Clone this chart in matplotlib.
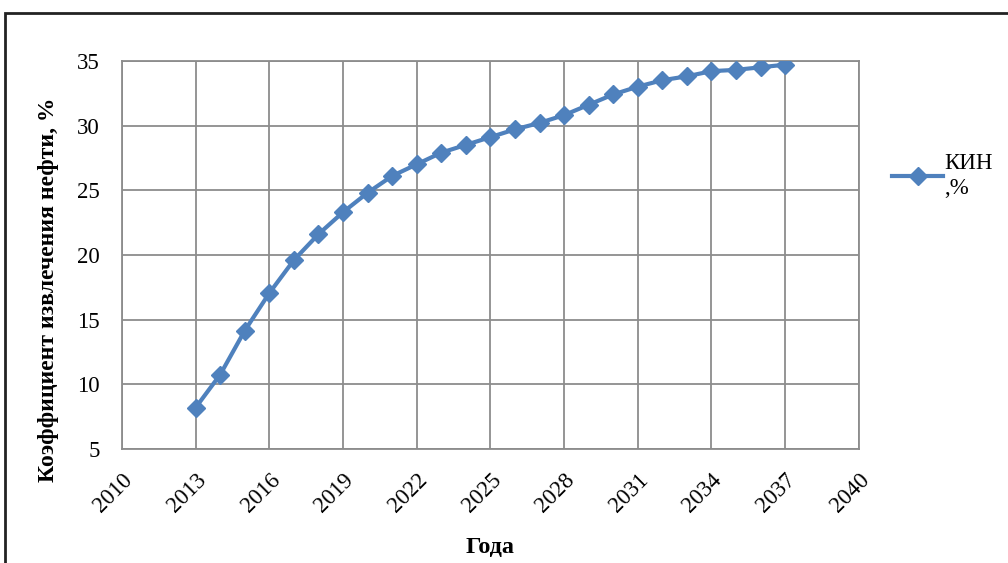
import matplotlib.pyplot as plt
from matplotlib.patches import Rectangle

years = list(range(2013, 2038))
kin = [8.2, 10.75, 14.15, 17.05, 19.6, 21.6, 23.3, 24.8, 26.1, 27.0,
       27.9, 28.5, 29.1, 29.7, 30.2, 30.8, 31.6, 32.4, 33.0, 33.5,
       33.8, 34.2, 34.3, 34.5, 34.7]
x_ticks = list(range(2010, 2041, 3))
y_ticks = [5, 10, 15, 20, 25, 30, 35]

plt.rcParams["font.family"] = ["Liberation Serif", "DejaVu Serif"]

fig = plt.figure(figsize=(10.08, 5.63), dpi=100)
ax = fig.add_axes([0.121, 0.2025, 0.731, 0.6895])

ax.plot(years, kin, color="#4F81BD", linewidth=3, marker="D",
        markersize=9, markeredgecolor="#4F81BD", label="КИН\n,%", zorder=3)

ax.set_xlim(2010, 2040)
ax.set_ylim(5, 35)
ax.set_xticks(x_ticks)
ax.set_yticks(y_ticks)
ax.grid(True, color="#8C8C8C", linewidth=1.3)
ax.set_axisbelow(True)
for s in ax.spines.values():
    s.set_color("#8C8C8C")
    s.set_linewidth(1.3)
ax.tick_params(length=0, labelsize=16.5)
ax.tick_params(axis="y", pad=16)
ax.tick_params(axis="x", pad=15)
plt.setp(ax.get_xticklabels(), rotation=45, ha="right", rotation_mode="anchor")

ax.set_ylabel("Коэффициент извлечения нефти, %", fontsize=17,
              fontweight="bold")
ax.yaxis.set_label_coords(-0.085, 0.41)
ax.set_xlabel("Года", fontsize=17.5, fontweight="bold")
ax.xaxis.set_label_coords(0.50, -0.228)

ax.legend(loc="upper left", bbox_to_anchor=(1.033, 0.785), frameon=False,
          fontsize=16.5, handlelength=2.2, handletextpad=0.05,
          borderaxespad=0, labelspacing=0)

# outer chart frame
fig.patches.append(Rectangle((5 / 1008, -0.05), 1.1, (563 - 13) / 563 + 0.05,
                             transform=fig.transFigure, fill=False,
                             edgecolor="#222222", linewidth=2))

fig.savefig("out.png", dpi=100)
